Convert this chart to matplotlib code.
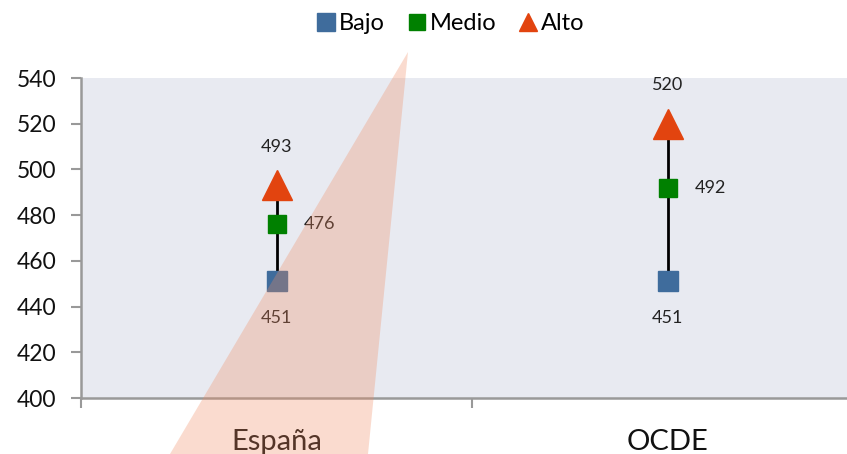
import matplotlib
matplotlib.use('Agg')
import matplotlib.pyplot as plt
from matplotlib.patches import Polygon
from matplotlib.lines import Line2D

plt.rcParams['font.family'] = ['Lato', 'DejaVu Sans']

# Data
paises = ['España', 'OCDE']
bajo = [451, 451]
medio = [476, 492]
alto = [493, 520]
yticks = [400, 420, 440, 460, 480, 500, 520, 540]

c_bajo = '#3F6C9C'
c_medio = '#008000'
c_alto = '#E2440F'

fig = plt.figure(figsize=(8.47, 4.54), dpi=100)
ax = fig.add_axes([81 / 847, 56 / 454, 782 / 847, 320 / 454])
ax.set_facecolor('#E8EAF1')

x = list(range(len(paises)))

# vertical range lines
ax.vlines(x, bajo, alto, color='black', lw=2, zorder=2)
ax.plot(x, bajo, 's', color=c_bajo, ms=14, zorder=3, label='Bajo')
ax.plot(x, medio, 's', color=c_medio, ms=13, zorder=3, label='Medio')
ax.plot(x, alto, '^', color=c_alto, ms=22, zorder=3, label='Alto')

# value labels
for i in x:
    ax.annotate(str(alto[i]), (i, alto[i]), xytext=(0, 28), textcoords='offset points',
                ha='center', va='center', fontsize=13, color='#222222')
    ax.annotate(str(medio[i]), (i, medio[i]), xytext=(31, 0), textcoords='offset points',
                ha='center', va='center', fontsize=13, color='#222222')
    ax.annotate(str(bajo[i]), (i, bajo[i]), xytext=(0, -26), textcoords='offset points',
                ha='center', va='center', fontsize=13, color='#222222')

ax.set_xlim(-0.5, len(paises) - 0.5)
ax.set_ylim(400, 540)
ax.set_yticks(yticks)
ax.set_xticks(x)
ax.set_xticklabels(paises, fontsize=21)
ax.set_xticks([-0.5, 0.5, 1.5], minor=True)
ax.tick_params(axis='x', which='major', length=0, pad=22, colors='#111111')
ax.tick_params(axis='x', which='minor', length=7, width=1.5, color='#999999')
ax.tick_params(axis='y', length=7, width=1.5, color='#999999', labelsize=16.5, pad=11,
               labelcolor='#111111')

for s in ['top', 'right']:
    ax.spines[s].set_visible(False)
for s in ['left', 'bottom']:
    ax.spines[s].set_color('#999999')
    ax.spines[s].set_linewidth(1.8)

handles = [
    Line2D([], [], marker='s', color=c_bajo, ls='', ms=13),
    Line2D([], [], marker='s', color=c_medio, ls='', ms=12),
    Line2D([], [], marker='^', color=c_alto, ls='', ms=13),
]
fig.legend(handles, ['Bajo', 'Medio', 'Alto'], loc='center', ncol=3,
           bbox_to_anchor=(450 / 847, 1 - 24 / 454), frameon=False, fontsize=17,
           handletextpad=0.1, columnspacing=0.9, handlelength=0.9)

# translucent wedge overlay
wedge = Polygon([(408 / 847, 1 - 52 / 454), (170 / 847, 0), (368 / 847, 0)],
                closed=True, transform=fig.transFigure, facecolor='#F08A60',
                alpha=0.3, edgecolor='none', zorder=10)
fig.patches.append(wedge)

plt.savefig('out.png', dpi=100)
